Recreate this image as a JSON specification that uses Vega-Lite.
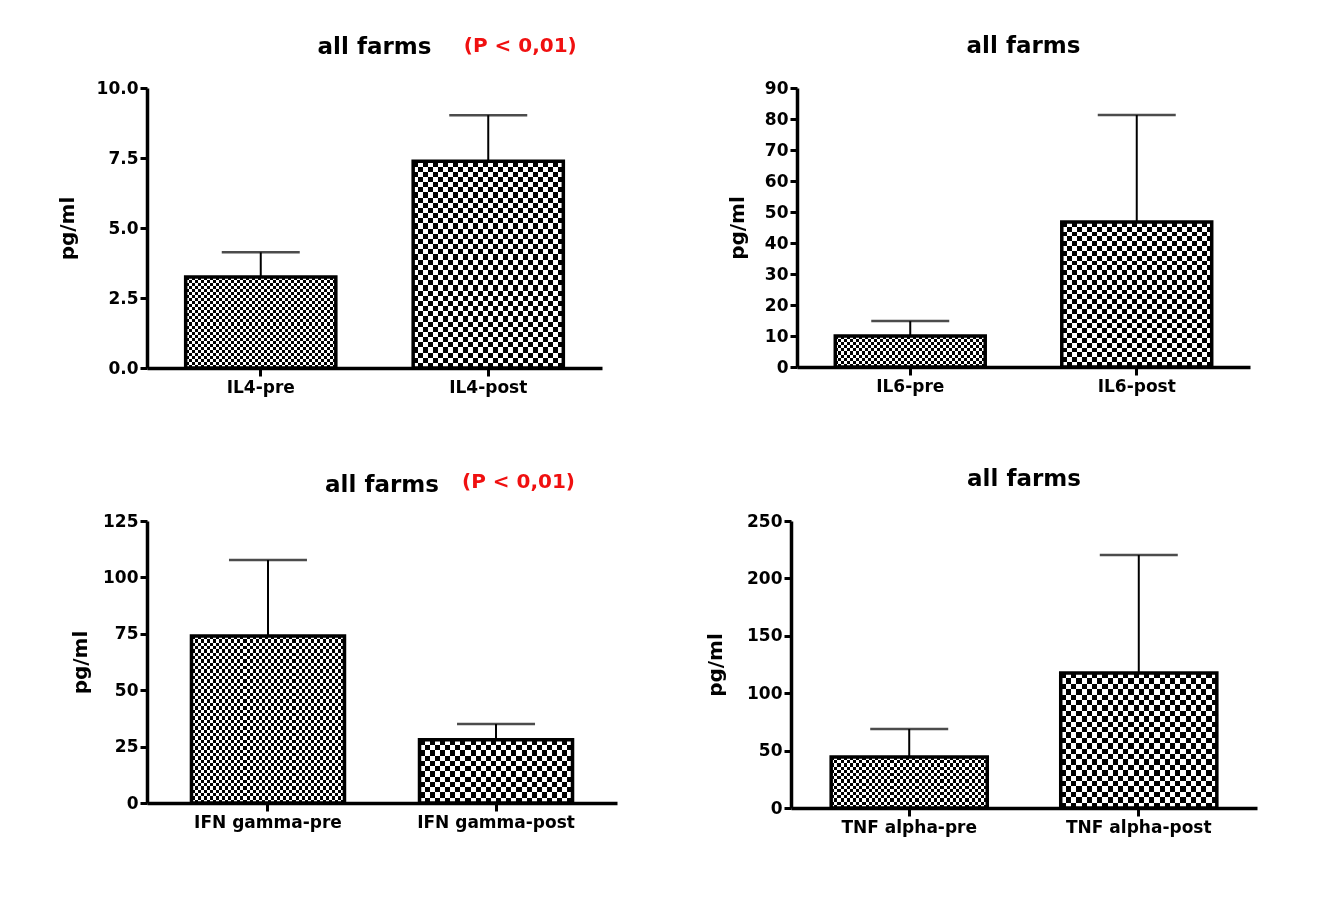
{
  "$schema": "https://vega.github.io/schema/vega-lite/v6.json",
  "padding": {"left": 57, "top": 35, "right": 5, "bottom": 5},
  "background": "white",
  "spacing": 73,
  "config": {
    "font": "DejaVu Sans",
    "view": {"stroke": null},
    "title": {"font": "DejaVu Sans", "fontSize": 23, "fontWeight": "bold", "color": "black", "anchor": "middle", "offset": 21},
    "axis": {
      "domainColor": "black", "domainWidth": 3.5, "tickColor": "black", "tickWidth": 3, "tickSize": 7,
      "labelFont": "DejaVu Sans", "labelFontWeight": "bold", "labelFontSize": 17, "labelColor": "black", "labelPadding": 2, "labelOverlap": false,
      "titleFont": "DejaVu Sans", "titleFontWeight": "bold", "titleFontSize": 20, "titleColor": "black",
      "grid": false
    },
    "axisX": {"labelAngle": 0, "tickSize": 8, "labelPadding": 3, "title": null}
  },
  "data": {"values": [
    {"panel": "IL4", "cat": "IL4-pre", "phase": "pre", "mean": 3.25, "upper": 4.13},
    {"panel": "IL4", "cat": "IL4-post", "phase": "post", "mean": 7.38, "upper": 9.03},
    {"panel": "IL6", "cat": "IL6-pre", "phase": "pre", "mean": 10.0, "upper": 14.8},
    {"panel": "IL6", "cat": "IL6-post", "phase": "post", "mean": 46.8, "upper": 81.3},
    {"panel": "IFN", "cat": "IFN gamma-pre", "phase": "pre", "mean": 74.0, "upper": 107.7},
    {"panel": "IFN", "cat": "IFN gamma-post", "phase": "post", "mean": 28.0, "upper": 35.0},
    {"panel": "TNF", "cat": "TNF alpha-pre", "phase": "pre", "mean": 44.4, "upper": 68.8},
    {"panel": "TNF", "cat": "TNF alpha-post", "phase": "post", "mean": 117.6, "upper": 220.4}
  ]},
  "vconcat": [
    {
      "bounds": "flush",
      "spacing": 195,
      "hconcat": [
        {
          "width": 455, "height": 280,
          "title": {"text": "all farms", "offset": -23},
          "transform": [{"filter": "datum.panel === 'IL4'"}],
          "encoding": {"x": {"field": "cat", "type": "nominal", "sort": null, "scale": {"domain": ["IL4-pre", "IL4-post"], "paddingInner": 0.34, "paddingOuter": 0.17}}},
          "layer": [
            {"transform": [{"filter": "datum.phase === 'pre'"}],
             "mark": {"type": "bar", "strokeWidth": 0, "fill": {"gradient": "linear", "x1": 0, "y1": 0, "x2": 1, "y2": 0, "stops": [
{"offset":0,"color":"#000"},{"offset":0.02,"color":"#000"},{"offset":0.02,"color":"#fff"},{"offset":0.04,"color":"#fff"},
{"offset":0.04,"color":"#000"},{"offset":0.06,"color":"#000"},{"offset":0.06,"color":"#fff"},{"offset":0.08,"color":"#fff"},
{"offset":0.08,"color":"#000"},{"offset":0.1,"color":"#000"},{"offset":0.1,"color":"#fff"},{"offset":0.12,"color":"#fff"},
{"offset":0.12,"color":"#000"},{"offset":0.14,"color":"#000"},{"offset":0.14,"color":"#fff"},{"offset":0.16,"color":"#fff"},
{"offset":0.16,"color":"#000"},{"offset":0.18,"color":"#000"},{"offset":0.18,"color":"#fff"},{"offset":0.2,"color":"#fff"},
{"offset":0.2,"color":"#000"},{"offset":0.22,"color":"#000"},{"offset":0.22,"color":"#fff"},{"offset":0.24,"color":"#fff"},
{"offset":0.24,"color":"#000"},{"offset":0.26,"color":"#000"},{"offset":0.26,"color":"#fff"},{"offset":0.28,"color":"#fff"},
{"offset":0.28,"color":"#000"},{"offset":0.3,"color":"#000"},{"offset":0.3,"color":"#fff"},{"offset":0.32,"color":"#fff"},
{"offset":0.32,"color":"#000"},{"offset":0.34,"color":"#000"},{"offset":0.34,"color":"#fff"},{"offset":0.36,"color":"#fff"},
{"offset":0.36,"color":"#000"},{"offset":0.38,"color":"#000"},{"offset":0.38,"color":"#fff"},{"offset":0.4,"color":"#fff"},
{"offset":0.4,"color":"#000"},{"offset":0.42,"color":"#000"},{"offset":0.42,"color":"#fff"},{"offset":0.44,"color":"#fff"},
{"offset":0.44,"color":"#000"},{"offset":0.46,"color":"#000"},{"offset":0.46,"color":"#fff"},{"offset":0.48,"color":"#fff"},
{"offset":0.48,"color":"#000"},{"offset":0.5,"color":"#000"},{"offset":0.5,"color":"#fff"},{"offset":0.52,"color":"#fff"},
{"offset":0.52,"color":"#000"},{"offset":0.54,"color":"#000"},{"offset":0.54,"color":"#fff"},{"offset":0.56,"color":"#fff"},
{"offset":0.56,"color":"#000"},{"offset":0.58,"color":"#000"},{"offset":0.58,"color":"#fff"},{"offset":0.6,"color":"#fff"},
{"offset":0.6,"color":"#000"},{"offset":0.62,"color":"#000"},{"offset":0.62,"color":"#fff"},{"offset":0.64,"color":"#fff"},
{"offset":0.64,"color":"#000"},{"offset":0.66,"color":"#000"},{"offset":0.66,"color":"#fff"},{"offset":0.68,"color":"#fff"},
{"offset":0.68,"color":"#000"},{"offset":0.7,"color":"#000"},{"offset":0.7,"color":"#fff"},{"offset":0.72,"color":"#fff"},
{"offset":0.72,"color":"#000"},{"offset":0.74,"color":"#000"},{"offset":0.74,"color":"#fff"},{"offset":0.76,"color":"#fff"},
{"offset":0.76,"color":"#000"},{"offset":0.78,"color":"#000"},{"offset":0.78,"color":"#fff"},{"offset":0.8,"color":"#fff"},
{"offset":0.8,"color":"#000"},{"offset":0.82,"color":"#000"},{"offset":0.82,"color":"#fff"},{"offset":0.84,"color":"#fff"},
{"offset":0.84,"color":"#000"},{"offset":0.86,"color":"#000"},{"offset":0.86,"color":"#fff"},{"offset":0.88,"color":"#fff"},
{"offset":0.88,"color":"#000"},{"offset":0.9,"color":"#000"},{"offset":0.9,"color":"#fff"},{"offset":0.92,"color":"#fff"},
{"offset":0.92,"color":"#000"},{"offset":0.94,"color":"#000"},{"offset":0.94,"color":"#fff"},{"offset":0.96,"color":"#fff"},
{"offset":0.96,"color":"#000"},{"offset":0.98,"color":"#000"},{"offset":0.98,"color":"#fff"},{"offset":1,"color":"#fff"}]}},
             "encoding": {"y": {"field": "mean", "type": "quantitative", "title": "pg/ml", "scale": {"domain": [0, 10], "nice": false}, "axis": {"values": [0, 2.5, 5, 7.5, 10], "format": ".1f", "titlePadding": 19, "tickCount": 20}}}},
            {"transform": [{"filter": "datum.phase === 'pre'"}],
             "mark": {"type": "bar", "strokeWidth": 0, "blend": "difference", "fill": {"gradient": "linear", "x1": 0, "y1": 0, "x2": 0, "y2": 1, "stops": [
{"offset":0,"color":"#000"},{"offset":0.0333,"color":"#000"},{"offset":0.0333,"color":"#fff"},{"offset":0.0667,"color":"#fff"},
{"offset":0.0667,"color":"#000"},{"offset":0.1,"color":"#000"},{"offset":0.1,"color":"#fff"},{"offset":0.1333,"color":"#fff"},
{"offset":0.1333,"color":"#000"},{"offset":0.1667,"color":"#000"},{"offset":0.1667,"color":"#fff"},{"offset":0.2,"color":"#fff"},
{"offset":0.2,"color":"#000"},{"offset":0.2333,"color":"#000"},{"offset":0.2333,"color":"#fff"},{"offset":0.2667,"color":"#fff"},
{"offset":0.2667,"color":"#000"},{"offset":0.3,"color":"#000"},{"offset":0.3,"color":"#fff"},{"offset":0.3333,"color":"#fff"},
{"offset":0.3333,"color":"#000"},{"offset":0.3667,"color":"#000"},{"offset":0.3667,"color":"#fff"},{"offset":0.4,"color":"#fff"},
{"offset":0.4,"color":"#000"},{"offset":0.4333,"color":"#000"},{"offset":0.4333,"color":"#fff"},{"offset":0.4667,"color":"#fff"},
{"offset":0.4667,"color":"#000"},{"offset":0.5,"color":"#000"},{"offset":0.5,"color":"#fff"},{"offset":0.5333,"color":"#fff"},
{"offset":0.5333,"color":"#000"},{"offset":0.5667,"color":"#000"},{"offset":0.5667,"color":"#fff"},{"offset":0.6,"color":"#fff"},
{"offset":0.6,"color":"#000"},{"offset":0.6333,"color":"#000"},{"offset":0.6333,"color":"#fff"},{"offset":0.6667,"color":"#fff"},
{"offset":0.6667,"color":"#000"},{"offset":0.7,"color":"#000"},{"offset":0.7,"color":"#fff"},{"offset":0.7333,"color":"#fff"},
{"offset":0.7333,"color":"#000"},{"offset":0.7667,"color":"#000"},{"offset":0.7667,"color":"#fff"},{"offset":0.8,"color":"#fff"},
{"offset":0.8,"color":"#000"},{"offset":0.8333,"color":"#000"},{"offset":0.8333,"color":"#fff"},{"offset":0.8667,"color":"#fff"},
{"offset":0.8667,"color":"#000"},{"offset":0.9,"color":"#000"},{"offset":0.9,"color":"#fff"},{"offset":0.9333,"color":"#fff"},
{"offset":0.9333,"color":"#000"},{"offset":0.9667,"color":"#000"},{"offset":0.9667,"color":"#fff"},{"offset":1,"color":"#fff"}]}},
             "encoding": {"y": {"field": "mean", "type": "quantitative", "title": "pg/ml"}}},
            {"transform": [{"filter": "datum.phase === 'post'"}],
             "mark": {"type": "bar", "strokeWidth": 0, "fill": {"gradient": "linear", "x1": 0, "y1": 0, "x2": 1, "y2": 0, "stops": [
{"offset":0,"color":"#000"},{"offset":0.0333,"color":"#000"},{"offset":0.0333,"color":"#fff"},{"offset":0.0667,"color":"#fff"},
{"offset":0.0667,"color":"#000"},{"offset":0.1,"color":"#000"},{"offset":0.1,"color":"#fff"},{"offset":0.1333,"color":"#fff"},
{"offset":0.1333,"color":"#000"},{"offset":0.1667,"color":"#000"},{"offset":0.1667,"color":"#fff"},{"offset":0.2,"color":"#fff"},
{"offset":0.2,"color":"#000"},{"offset":0.2333,"color":"#000"},{"offset":0.2333,"color":"#fff"},{"offset":0.2667,"color":"#fff"},
{"offset":0.2667,"color":"#000"},{"offset":0.3,"color":"#000"},{"offset":0.3,"color":"#fff"},{"offset":0.3333,"color":"#fff"},
{"offset":0.3333,"color":"#000"},{"offset":0.3667,"color":"#000"},{"offset":0.3667,"color":"#fff"},{"offset":0.4,"color":"#fff"},
{"offset":0.4,"color":"#000"},{"offset":0.4333,"color":"#000"},{"offset":0.4333,"color":"#fff"},{"offset":0.4667,"color":"#fff"},
{"offset":0.4667,"color":"#000"},{"offset":0.5,"color":"#000"},{"offset":0.5,"color":"#fff"},{"offset":0.5333,"color":"#fff"},
{"offset":0.5333,"color":"#000"},{"offset":0.5667,"color":"#000"},{"offset":0.5667,"color":"#fff"},{"offset":0.6,"color":"#fff"},
{"offset":0.6,"color":"#000"},{"offset":0.6333,"color":"#000"},{"offset":0.6333,"color":"#fff"},{"offset":0.6667,"color":"#fff"},
{"offset":0.6667,"color":"#000"},{"offset":0.7,"color":"#000"},{"offset":0.7,"color":"#fff"},{"offset":0.7333,"color":"#fff"},
{"offset":0.7333,"color":"#000"},{"offset":0.7667,"color":"#000"},{"offset":0.7667,"color":"#fff"},{"offset":0.8,"color":"#fff"},
{"offset":0.8,"color":"#000"},{"offset":0.8333,"color":"#000"},{"offset":0.8333,"color":"#fff"},{"offset":0.8667,"color":"#fff"},
{"offset":0.8667,"color":"#000"},{"offset":0.9,"color":"#000"},{"offset":0.9,"color":"#fff"},{"offset":0.9333,"color":"#fff"},
{"offset":0.9333,"color":"#000"},{"offset":0.9667,"color":"#000"},{"offset":0.9667,"color":"#fff"},{"offset":1,"color":"#fff"}]}},
             "encoding": {"y": {"field": "mean", "type": "quantitative", "title": "pg/ml"}}},
            {"transform": [{"filter": "datum.phase === 'post'"}],
             "mark": {"type": "bar", "strokeWidth": 0, "blend": "difference", "fill": {"gradient": "linear", "x1": 0, "y1": 0, "x2": 0, "y2": 1, "stops": [
{"offset":0,"color":"#000"},{"offset":0.025,"color":"#000"},{"offset":0.025,"color":"#fff"},{"offset":0.05,"color":"#fff"},
{"offset":0.05,"color":"#000"},{"offset":0.075,"color":"#000"},{"offset":0.075,"color":"#fff"},{"offset":0.1,"color":"#fff"},
{"offset":0.1,"color":"#000"},{"offset":0.125,"color":"#000"},{"offset":0.125,"color":"#fff"},{"offset":0.15,"color":"#fff"},
{"offset":0.15,"color":"#000"},{"offset":0.175,"color":"#000"},{"offset":0.175,"color":"#fff"},{"offset":0.2,"color":"#fff"},
{"offset":0.2,"color":"#000"},{"offset":0.225,"color":"#000"},{"offset":0.225,"color":"#fff"},{"offset":0.25,"color":"#fff"},
{"offset":0.25,"color":"#000"},{"offset":0.275,"color":"#000"},{"offset":0.275,"color":"#fff"},{"offset":0.3,"color":"#fff"},
{"offset":0.3,"color":"#000"},{"offset":0.325,"color":"#000"},{"offset":0.325,"color":"#fff"},{"offset":0.35,"color":"#fff"},
{"offset":0.35,"color":"#000"},{"offset":0.375,"color":"#000"},{"offset":0.375,"color":"#fff"},{"offset":0.4,"color":"#fff"},
{"offset":0.4,"color":"#000"},{"offset":0.425,"color":"#000"},{"offset":0.425,"color":"#fff"},{"offset":0.45,"color":"#fff"},
{"offset":0.45,"color":"#000"},{"offset":0.475,"color":"#000"},{"offset":0.475,"color":"#fff"},{"offset":0.5,"color":"#fff"},
{"offset":0.5,"color":"#000"},{"offset":0.525,"color":"#000"},{"offset":0.525,"color":"#fff"},{"offset":0.55,"color":"#fff"},
{"offset":0.55,"color":"#000"},{"offset":0.575,"color":"#000"},{"offset":0.575,"color":"#fff"},{"offset":0.6,"color":"#fff"},
{"offset":0.6,"color":"#000"},{"offset":0.625,"color":"#000"},{"offset":0.625,"color":"#fff"},{"offset":0.65,"color":"#fff"},
{"offset":0.65,"color":"#000"},{"offset":0.675,"color":"#000"},{"offset":0.675,"color":"#fff"},{"offset":0.7,"color":"#fff"},
{"offset":0.7,"color":"#000"},{"offset":0.725,"color":"#000"},{"offset":0.725,"color":"#fff"},{"offset":0.75,"color":"#fff"},
{"offset":0.75,"color":"#000"},{"offset":0.775,"color":"#000"},{"offset":0.775,"color":"#fff"},{"offset":0.8,"color":"#fff"},
{"offset":0.8,"color":"#000"},{"offset":0.825,"color":"#000"},{"offset":0.825,"color":"#fff"},{"offset":0.85,"color":"#fff"},
{"offset":0.85,"color":"#000"},{"offset":0.875,"color":"#000"},{"offset":0.875,"color":"#fff"},{"offset":0.9,"color":"#fff"},
{"offset":0.9,"color":"#000"},{"offset":0.925,"color":"#000"},{"offset":0.925,"color":"#fff"},{"offset":0.95,"color":"#fff"},
{"offset":0.95,"color":"#000"},{"offset":0.975,"color":"#000"},{"offset":0.975,"color":"#fff"},{"offset":1,"color":"#fff"}]}},
             "encoding": {"y": {"field": "mean", "type": "quantitative", "title": "pg/ml"}}},
            {"mark": {"type": "bar", "fill": "transparent", "stroke": "black", "strokeWidth": 3.5},
             "encoding": {"y": {"field": "mean", "type": "quantitative", "title": "pg/ml"}}},
            {"mark": {"type": "rule", "color": "black", "strokeWidth": 2},
             "encoding": {"y": {"field": "mean", "type": "quantitative", "title": "pg/ml"}, "y2": {"field": "upper"}}},
            {"mark": {"type": "tick", "color": "black", "size": 78, "thickness": 2.5},
             "encoding": {"y": {"field": "upper", "type": "quantitative", "title": "pg/ml"}}},
            {"data": {"values": [{"note": "(P < 0,01)"}]},
             "mark": {"type": "text", "color": "#f01010", "font": "DejaVu Sans", "fontWeight": "bold", "fontSize": 20, "baseline": "middle", "align": "center", "dx": 32},
             "encoding": {"x": {"datum": "IL4-post"}, "y": {"datum": 11.5, "type": "quantitative"}, "text": {"field": "note"}}}
          ]
        },
        {
          "width": 453, "height": 279,
          "title": "all farms",
          "transform": [{"filter": "datum.panel === 'IL6'"}],
          "encoding": {"x": {"field": "cat", "type": "nominal", "sort": null, "scale": {"domain": ["IL6-pre", "IL6-post"], "paddingInner": 0.338, "paddingOuter": 0.169}}},
          "layer": [
            {"transform": [{"filter": "datum.phase === 'pre'"}],
             "mark": {"type": "bar", "strokeWidth": 0, "fill": {"gradient": "linear", "x1": 0, "y1": 0, "x2": 1, "y2": 0, "stops": [
{"offset":0,"color":"#000"},{"offset":0.02,"color":"#000"},{"offset":0.02,"color":"#fff"},{"offset":0.04,"color":"#fff"},
{"offset":0.04,"color":"#000"},{"offset":0.06,"color":"#000"},{"offset":0.06,"color":"#fff"},{"offset":0.08,"color":"#fff"},
{"offset":0.08,"color":"#000"},{"offset":0.1,"color":"#000"},{"offset":0.1,"color":"#fff"},{"offset":0.12,"color":"#fff"},
{"offset":0.12,"color":"#000"},{"offset":0.14,"color":"#000"},{"offset":0.14,"color":"#fff"},{"offset":0.16,"color":"#fff"},
{"offset":0.16,"color":"#000"},{"offset":0.18,"color":"#000"},{"offset":0.18,"color":"#fff"},{"offset":0.2,"color":"#fff"},
{"offset":0.2,"color":"#000"},{"offset":0.22,"color":"#000"},{"offset":0.22,"color":"#fff"},{"offset":0.24,"color":"#fff"},
{"offset":0.24,"color":"#000"},{"offset":0.26,"color":"#000"},{"offset":0.26,"color":"#fff"},{"offset":0.28,"color":"#fff"},
{"offset":0.28,"color":"#000"},{"offset":0.3,"color":"#000"},{"offset":0.3,"color":"#fff"},{"offset":0.32,"color":"#fff"},
{"offset":0.32,"color":"#000"},{"offset":0.34,"color":"#000"},{"offset":0.34,"color":"#fff"},{"offset":0.36,"color":"#fff"},
{"offset":0.36,"color":"#000"},{"offset":0.38,"color":"#000"},{"offset":0.38,"color":"#fff"},{"offset":0.4,"color":"#fff"},
{"offset":0.4,"color":"#000"},{"offset":0.42,"color":"#000"},{"offset":0.42,"color":"#fff"},{"offset":0.44,"color":"#fff"},
{"offset":0.44,"color":"#000"},{"offset":0.46,"color":"#000"},{"offset":0.46,"color":"#fff"},{"offset":0.48,"color":"#fff"},
{"offset":0.48,"color":"#000"},{"offset":0.5,"color":"#000"},{"offset":0.5,"color":"#fff"},{"offset":0.52,"color":"#fff"},
{"offset":0.52,"color":"#000"},{"offset":0.54,"color":"#000"},{"offset":0.54,"color":"#fff"},{"offset":0.56,"color":"#fff"},
{"offset":0.56,"color":"#000"},{"offset":0.58,"color":"#000"},{"offset":0.58,"color":"#fff"},{"offset":0.6,"color":"#fff"},
{"offset":0.6,"color":"#000"},{"offset":0.62,"color":"#000"},{"offset":0.62,"color":"#fff"},{"offset":0.64,"color":"#fff"},
{"offset":0.64,"color":"#000"},{"offset":0.66,"color":"#000"},{"offset":0.66,"color":"#fff"},{"offset":0.68,"color":"#fff"},
{"offset":0.68,"color":"#000"},{"offset":0.7,"color":"#000"},{"offset":0.7,"color":"#fff"},{"offset":0.72,"color":"#fff"},
{"offset":0.72,"color":"#000"},{"offset":0.74,"color":"#000"},{"offset":0.74,"color":"#fff"},{"offset":0.76,"color":"#fff"},
{"offset":0.76,"color":"#000"},{"offset":0.78,"color":"#000"},{"offset":0.78,"color":"#fff"},{"offset":0.8,"color":"#fff"},
{"offset":0.8,"color":"#000"},{"offset":0.82,"color":"#000"},{"offset":0.82,"color":"#fff"},{"offset":0.84,"color":"#fff"},
{"offset":0.84,"color":"#000"},{"offset":0.86,"color":"#000"},{"offset":0.86,"color":"#fff"},{"offset":0.88,"color":"#fff"},
{"offset":0.88,"color":"#000"},{"offset":0.9,"color":"#000"},{"offset":0.9,"color":"#fff"},{"offset":0.92,"color":"#fff"},
{"offset":0.92,"color":"#000"},{"offset":0.94,"color":"#000"},{"offset":0.94,"color":"#fff"},{"offset":0.96,"color":"#fff"},
{"offset":0.96,"color":"#000"},{"offset":0.98,"color":"#000"},{"offset":0.98,"color":"#fff"},{"offset":1,"color":"#fff"}]}},
             "encoding": {"y": {"field": "mean", "type": "quantitative", "title": "pg/ml", "scale": {"domain": [0, 90], "nice": false}, "axis": {"values": [0, 10, 20, 30, 40, 50, 60, 70, 80, 90], "titlePadding": 17, "tickCount": 20}}}},
            {"transform": [{"filter": "datum.phase === 'pre'"}],
             "mark": {"type": "bar", "strokeWidth": 0, "blend": "difference", "fill": {"gradient": "linear", "x1": 0, "y1": 0, "x2": 0, "y2": 1, "stops": [
{"offset":0,"color":"#000"},{"offset":0.1,"color":"#000"},{"offset":0.1,"color":"#fff"},{"offset":0.2,"color":"#fff"},
{"offset":0.2,"color":"#000"},{"offset":0.3,"color":"#000"},{"offset":0.3,"color":"#fff"},{"offset":0.4,"color":"#fff"},
{"offset":0.4,"color":"#000"},{"offset":0.5,"color":"#000"},{"offset":0.5,"color":"#fff"},{"offset":0.6,"color":"#fff"},
{"offset":0.6,"color":"#000"},{"offset":0.7,"color":"#000"},{"offset":0.7,"color":"#fff"},{"offset":0.8,"color":"#fff"},
{"offset":0.8,"color":"#000"},{"offset":0.9,"color":"#000"},{"offset":0.9,"color":"#fff"},{"offset":1,"color":"#fff"}]}},
             "encoding": {"y": {"field": "mean", "type": "quantitative", "title": "pg/ml"}}},
            {"transform": [{"filter": "datum.phase === 'post'"}],
             "mark": {"type": "bar", "strokeWidth": 0, "fill": {"gradient": "linear", "x1": 0, "y1": 0, "x2": 1, "y2": 0, "stops": [
{"offset":0,"color":"#000"},{"offset":0.0333,"color":"#000"},{"offset":0.0333,"color":"#fff"},{"offset":0.0667,"color":"#fff"},
{"offset":0.0667,"color":"#000"},{"offset":0.1,"color":"#000"},{"offset":0.1,"color":"#fff"},{"offset":0.1333,"color":"#fff"},
{"offset":0.1333,"color":"#000"},{"offset":0.1667,"color":"#000"},{"offset":0.1667,"color":"#fff"},{"offset":0.2,"color":"#fff"},
{"offset":0.2,"color":"#000"},{"offset":0.2333,"color":"#000"},{"offset":0.2333,"color":"#fff"},{"offset":0.2667,"color":"#fff"},
{"offset":0.2667,"color":"#000"},{"offset":0.3,"color":"#000"},{"offset":0.3,"color":"#fff"},{"offset":0.3333,"color":"#fff"},
{"offset":0.3333,"color":"#000"},{"offset":0.3667,"color":"#000"},{"offset":0.3667,"color":"#fff"},{"offset":0.4,"color":"#fff"},
{"offset":0.4,"color":"#000"},{"offset":0.4333,"color":"#000"},{"offset":0.4333,"color":"#fff"},{"offset":0.4667,"color":"#fff"},
{"offset":0.4667,"color":"#000"},{"offset":0.5,"color":"#000"},{"offset":0.5,"color":"#fff"},{"offset":0.5333,"color":"#fff"},
{"offset":0.5333,"color":"#000"},{"offset":0.5667,"color":"#000"},{"offset":0.5667,"color":"#fff"},{"offset":0.6,"color":"#fff"},
{"offset":0.6,"color":"#000"},{"offset":0.6333,"color":"#000"},{"offset":0.6333,"color":"#fff"},{"offset":0.6667,"color":"#fff"},
{"offset":0.6667,"color":"#000"},{"offset":0.7,"color":"#000"},{"offset":0.7,"color":"#fff"},{"offset":0.7333,"color":"#fff"},
{"offset":0.7333,"color":"#000"},{"offset":0.7667,"color":"#000"},{"offset":0.7667,"color":"#fff"},{"offset":0.8,"color":"#fff"},
{"offset":0.8,"color":"#000"},{"offset":0.8333,"color":"#000"},{"offset":0.8333,"color":"#fff"},{"offset":0.8667,"color":"#fff"},
{"offset":0.8667,"color":"#000"},{"offset":0.9,"color":"#000"},{"offset":0.9,"color":"#fff"},{"offset":0.9333,"color":"#fff"},
{"offset":0.9333,"color":"#000"},{"offset":0.9667,"color":"#000"},{"offset":0.9667,"color":"#fff"},{"offset":1,"color":"#fff"}]}},
             "encoding": {"y": {"field": "mean", "type": "quantitative", "title": "pg/ml"}}},
            {"transform": [{"filter": "datum.phase === 'post'"}],
             "mark": {"type": "bar", "strokeWidth": 0, "blend": "difference", "fill": {"gradient": "linear", "x1": 0, "y1": 0, "x2": 0, "y2": 1, "stops": [
{"offset":0,"color":"#000"},{"offset":0.0333,"color":"#000"},{"offset":0.0333,"color":"#fff"},{"offset":0.0667,"color":"#fff"},
{"offset":0.0667,"color":"#000"},{"offset":0.1,"color":"#000"},{"offset":0.1,"color":"#fff"},{"offset":0.1333,"color":"#fff"},
{"offset":0.1333,"color":"#000"},{"offset":0.1667,"color":"#000"},{"offset":0.1667,"color":"#fff"},{"offset":0.2,"color":"#fff"},
{"offset":0.2,"color":"#000"},{"offset":0.2333,"color":"#000"},{"offset":0.2333,"color":"#fff"},{"offset":0.2667,"color":"#fff"},
{"offset":0.2667,"color":"#000"},{"offset":0.3,"color":"#000"},{"offset":0.3,"color":"#fff"},{"offset":0.3333,"color":"#fff"},
{"offset":0.3333,"color":"#000"},{"offset":0.3667,"color":"#000"},{"offset":0.3667,"color":"#fff"},{"offset":0.4,"color":"#fff"},
{"offset":0.4,"color":"#000"},{"offset":0.4333,"color":"#000"},{"offset":0.4333,"color":"#fff"},{"offset":0.4667,"color":"#fff"},
{"offset":0.4667,"color":"#000"},{"offset":0.5,"color":"#000"},{"offset":0.5,"color":"#fff"},{"offset":0.5333,"color":"#fff"},
{"offset":0.5333,"color":"#000"},{"offset":0.5667,"color":"#000"},{"offset":0.5667,"color":"#fff"},{"offset":0.6,"color":"#fff"},
{"offset":0.6,"color":"#000"},{"offset":0.6333,"color":"#000"},{"offset":0.6333,"color":"#fff"},{"offset":0.6667,"color":"#fff"},
{"offset":0.6667,"color":"#000"},{"offset":0.7,"color":"#000"},{"offset":0.7,"color":"#fff"},{"offset":0.7333,"color":"#fff"},
{"offset":0.7333,"color":"#000"},{"offset":0.7667,"color":"#000"},{"offset":0.7667,"color":"#fff"},{"offset":0.8,"color":"#fff"},
{"offset":0.8,"color":"#000"},{"offset":0.8333,"color":"#000"},{"offset":0.8333,"color":"#fff"},{"offset":0.8667,"color":"#fff"},
{"offset":0.8667,"color":"#000"},{"offset":0.9,"color":"#000"},{"offset":0.9,"color":"#fff"},{"offset":0.9333,"color":"#fff"},
{"offset":0.9333,"color":"#000"},{"offset":0.9667,"color":"#000"},{"offset":0.9667,"color":"#fff"},{"offset":1,"color":"#fff"}]}},
             "encoding": {"y": {"field": "mean", "type": "quantitative", "title": "pg/ml"}}},
            {"mark": {"type": "bar", "fill": "transparent", "stroke": "black", "strokeWidth": 3.5},
             "encoding": {"y": {"field": "mean", "type": "quantitative", "title": "pg/ml"}}},
            {"mark": {"type": "rule", "color": "black", "strokeWidth": 2},
             "encoding": {"y": {"field": "mean", "type": "quantitative", "title": "pg/ml"}, "y2": {"field": "upper"}}},
            {"mark": {"type": "tick", "color": "black", "size": 78, "thickness": 2.5},
             "encoding": {"y": {"field": "upper", "type": "quantitative", "title": "pg/ml"}}}
          ]
        }
      ]
    },
    {
      "bounds": "flush",
      "spacing": 174,
      "hconcat": [
        {
          "width": 470, "height": 282,
          "title": {"text": "all farms", "offset": -25},
          "transform": [{"filter": "datum.panel === 'IFN'"}],
          "encoding": {"x": {"field": "cat", "type": "nominal", "sort": null, "scale": {"domain": ["IFN gamma-pre", "IFN gamma-post"], "paddingInner": 0.329, "paddingOuter": 0.195}}},
          "layer": [
            {"transform": [{"filter": "datum.phase === 'pre'"}],
             "mark": {"type": "bar", "strokeWidth": 0, "fill": {"gradient": "linear", "x1": 0, "y1": 0, "x2": 1, "y2": 0, "stops": [
{"offset":0,"color":"#000"},{"offset":0.02,"color":"#000"},{"offset":0.02,"color":"#fff"},{"offset":0.04,"color":"#fff"},
{"offset":0.04,"color":"#000"},{"offset":0.06,"color":"#000"},{"offset":0.06,"color":"#fff"},{"offset":0.08,"color":"#fff"},
{"offset":0.08,"color":"#000"},{"offset":0.1,"color":"#000"},{"offset":0.1,"color":"#fff"},{"offset":0.12,"color":"#fff"},
{"offset":0.12,"color":"#000"},{"offset":0.14,"color":"#000"},{"offset":0.14,"color":"#fff"},{"offset":0.16,"color":"#fff"},
{"offset":0.16,"color":"#000"},{"offset":0.18,"color":"#000"},{"offset":0.18,"color":"#fff"},{"offset":0.2,"color":"#fff"},
{"offset":0.2,"color":"#000"},{"offset":0.22,"color":"#000"},{"offset":0.22,"color":"#fff"},{"offset":0.24,"color":"#fff"},
{"offset":0.24,"color":"#000"},{"offset":0.26,"color":"#000"},{"offset":0.26,"color":"#fff"},{"offset":0.28,"color":"#fff"},
{"offset":0.28,"color":"#000"},{"offset":0.3,"color":"#000"},{"offset":0.3,"color":"#fff"},{"offset":0.32,"color":"#fff"},
{"offset":0.32,"color":"#000"},{"offset":0.34,"color":"#000"},{"offset":0.34,"color":"#fff"},{"offset":0.36,"color":"#fff"},
{"offset":0.36,"color":"#000"},{"offset":0.38,"color":"#000"},{"offset":0.38,"color":"#fff"},{"offset":0.4,"color":"#fff"},
{"offset":0.4,"color":"#000"},{"offset":0.42,"color":"#000"},{"offset":0.42,"color":"#fff"},{"offset":0.44,"color":"#fff"},
{"offset":0.44,"color":"#000"},{"offset":0.46,"color":"#000"},{"offset":0.46,"color":"#fff"},{"offset":0.48,"color":"#fff"},
{"offset":0.48,"color":"#000"},{"offset":0.5,"color":"#000"},{"offset":0.5,"color":"#fff"},{"offset":0.52,"color":"#fff"},
{"offset":0.52,"color":"#000"},{"offset":0.54,"color":"#000"},{"offset":0.54,"color":"#fff"},{"offset":0.56,"color":"#fff"},
{"offset":0.56,"color":"#000"},{"offset":0.58,"color":"#000"},{"offset":0.58,"color":"#fff"},{"offset":0.6,"color":"#fff"},
{"offset":0.6,"color":"#000"},{"offset":0.62,"color":"#000"},{"offset":0.62,"color":"#fff"},{"offset":0.64,"color":"#fff"},
{"offset":0.64,"color":"#000"},{"offset":0.66,"color":"#000"},{"offset":0.66,"color":"#fff"},{"offset":0.68,"color":"#fff"},
{"offset":0.68,"color":"#000"},{"offset":0.7,"color":"#000"},{"offset":0.7,"color":"#fff"},{"offset":0.72,"color":"#fff"},
{"offset":0.72,"color":"#000"},{"offset":0.74,"color":"#000"},{"offset":0.74,"color":"#fff"},{"offset":0.76,"color":"#fff"},
{"offset":0.76,"color":"#000"},{"offset":0.78,"color":"#000"},{"offset":0.78,"color":"#fff"},{"offset":0.8,"color":"#fff"},
{"offset":0.8,"color":"#000"},{"offset":0.82,"color":"#000"},{"offset":0.82,"color":"#fff"},{"offset":0.84,"color":"#fff"},
{"offset":0.84,"color":"#000"},{"offset":0.86,"color":"#000"},{"offset":0.86,"color":"#fff"},{"offset":0.88,"color":"#fff"},
{"offset":0.88,"color":"#000"},{"offset":0.9,"color":"#000"},{"offset":0.9,"color":"#fff"},{"offset":0.92,"color":"#fff"},
{"offset":0.92,"color":"#000"},{"offset":0.94,"color":"#000"},{"offset":0.94,"color":"#fff"},{"offset":0.96,"color":"#fff"},
{"offset":0.96,"color":"#000"},{"offset":0.98,"color":"#000"},{"offset":0.98,"color":"#fff"},{"offset":1,"color":"#fff"}]}},
             "encoding": {"y": {"field": "mean", "type": "quantitative", "title": "pg/ml", "scale": {"domain": [0, 125], "nice": false}, "axis": {"values": [0, 25, 50, 75, 100, 125], "titlePadding": 12.5, "tickCount": 20}}}},
            {"transform": [{"filter": "datum.phase === 'pre'"}],
             "mark": {"type": "bar", "strokeWidth": 0, "blend": "difference", "fill": {"gradient": "linear", "x1": 0, "y1": 0, "x2": 0, "y2": 1, "stops": [
{"offset":0,"color":"#000"},{"offset":0.02,"color":"#000"},{"offset":0.02,"color":"#fff"},{"offset":0.04,"color":"#fff"},
{"offset":0.04,"color":"#000"},{"offset":0.06,"color":"#000"},{"offset":0.06,"color":"#fff"},{"offset":0.08,"color":"#fff"},
{"offset":0.08,"color":"#000"},{"offset":0.1,"color":"#000"},{"offset":0.1,"color":"#fff"},{"offset":0.12,"color":"#fff"},
{"offset":0.12,"color":"#000"},{"offset":0.14,"color":"#000"},{"offset":0.14,"color":"#fff"},{"offset":0.16,"color":"#fff"},
{"offset":0.16,"color":"#000"},{"offset":0.18,"color":"#000"},{"offset":0.18,"color":"#fff"},{"offset":0.2,"color":"#fff"},
{"offset":0.2,"color":"#000"},{"offset":0.22,"color":"#000"},{"offset":0.22,"color":"#fff"},{"offset":0.24,"color":"#fff"},
{"offset":0.24,"color":"#000"},{"offset":0.26,"color":"#000"},{"offset":0.26,"color":"#fff"},{"offset":0.28,"color":"#fff"},
{"offset":0.28,"color":"#000"},{"offset":0.3,"color":"#000"},{"offset":0.3,"color":"#fff"},{"offset":0.32,"color":"#fff"},
{"offset":0.32,"color":"#000"},{"offset":0.34,"color":"#000"},{"offset":0.34,"color":"#fff"},{"offset":0.36,"color":"#fff"},
{"offset":0.36,"color":"#000"},{"offset":0.38,"color":"#000"},{"offset":0.38,"color":"#fff"},{"offset":0.4,"color":"#fff"},
{"offset":0.4,"color":"#000"},{"offset":0.42,"color":"#000"},{"offset":0.42,"color":"#fff"},{"offset":0.44,"color":"#fff"},
{"offset":0.44,"color":"#000"},{"offset":0.46,"color":"#000"},{"offset":0.46,"color":"#fff"},{"offset":0.48,"color":"#fff"},
{"offset":0.48,"color":"#000"},{"offset":0.5,"color":"#000"},{"offset":0.5,"color":"#fff"},{"offset":0.52,"color":"#fff"},
{"offset":0.52,"color":"#000"},{"offset":0.54,"color":"#000"},{"offset":0.54,"color":"#fff"},{"offset":0.56,"color":"#fff"},
{"offset":0.56,"color":"#000"},{"offset":0.58,"color":"#000"},{"offset":0.58,"color":"#fff"},{"offset":0.6,"color":"#fff"},
{"offset":0.6,"color":"#000"},{"offset":0.62,"color":"#000"},{"offset":0.62,"color":"#fff"},{"offset":0.64,"color":"#fff"},
{"offset":0.64,"color":"#000"},{"offset":0.66,"color":"#000"},{"offset":0.66,"color":"#fff"},{"offset":0.68,"color":"#fff"},
{"offset":0.68,"color":"#000"},{"offset":0.7,"color":"#000"},{"offset":0.7,"color":"#fff"},{"offset":0.72,"color":"#fff"},
{"offset":0.72,"color":"#000"},{"offset":0.74,"color":"#000"},{"offset":0.74,"color":"#fff"},{"offset":0.76,"color":"#fff"},
{"offset":0.76,"color":"#000"},{"offset":0.78,"color":"#000"},{"offset":0.78,"color":"#fff"},{"offset":0.8,"color":"#fff"},
{"offset":0.8,"color":"#000"},{"offset":0.82,"color":"#000"},{"offset":0.82,"color":"#fff"},{"offset":0.84,"color":"#fff"},
{"offset":0.84,"color":"#000"},{"offset":0.86,"color":"#000"},{"offset":0.86,"color":"#fff"},{"offset":0.88,"color":"#fff"},
{"offset":0.88,"color":"#000"},{"offset":0.9,"color":"#000"},{"offset":0.9,"color":"#fff"},{"offset":0.92,"color":"#fff"},
{"offset":0.92,"color":"#000"},{"offset":0.94,"color":"#000"},{"offset":0.94,"color":"#fff"},{"offset":0.96,"color":"#fff"},
{"offset":0.96,"color":"#000"},{"offset":0.98,"color":"#000"},{"offset":0.98,"color":"#fff"},{"offset":1,"color":"#fff"}]}},
             "encoding": {"y": {"field": "mean", "type": "quantitative", "title": "pg/ml"}}},
            {"transform": [{"filter": "datum.phase === 'post'"}],
             "mark": {"type": "bar", "strokeWidth": 0, "fill": {"gradient": "linear", "x1": 0, "y1": 0, "x2": 1, "y2": 0, "stops": [
{"offset":0,"color":"#000"},{"offset":0.0333,"color":"#000"},{"offset":0.0333,"color":"#fff"},{"offset":0.0667,"color":"#fff"},
{"offset":0.0667,"color":"#000"},{"offset":0.1,"color":"#000"},{"offset":0.1,"color":"#fff"},{"offset":0.1333,"color":"#fff"},
{"offset":0.1333,"color":"#000"},{"offset":0.1667,"color":"#000"},{"offset":0.1667,"color":"#fff"},{"offset":0.2,"color":"#fff"},
{"offset":0.2,"color":"#000"},{"offset":0.2333,"color":"#000"},{"offset":0.2333,"color":"#fff"},{"offset":0.2667,"color":"#fff"},
{"offset":0.2667,"color":"#000"},{"offset":0.3,"color":"#000"},{"offset":0.3,"color":"#fff"},{"offset":0.3333,"color":"#fff"},
{"offset":0.3333,"color":"#000"},{"offset":0.3667,"color":"#000"},{"offset":0.3667,"color":"#fff"},{"offset":0.4,"color":"#fff"},
{"offset":0.4,"color":"#000"},{"offset":0.4333,"color":"#000"},{"offset":0.4333,"color":"#fff"},{"offset":0.4667,"color":"#fff"},
{"offset":0.4667,"color":"#000"},{"offset":0.5,"color":"#000"},{"offset":0.5,"color":"#fff"},{"offset":0.5333,"color":"#fff"},
{"offset":0.5333,"color":"#000"},{"offset":0.5667,"color":"#000"},{"offset":0.5667,"color":"#fff"},{"offset":0.6,"color":"#fff"},
{"offset":0.6,"color":"#000"},{"offset":0.6333,"color":"#000"},{"offset":0.6333,"color":"#fff"},{"offset":0.6667,"color":"#fff"},
{"offset":0.6667,"color":"#000"},{"offset":0.7,"color":"#000"},{"offset":0.7,"color":"#fff"},{"offset":0.7333,"color":"#fff"},
{"offset":0.7333,"color":"#000"},{"offset":0.7667,"color":"#000"},{"offset":0.7667,"color":"#fff"},{"offset":0.8,"color":"#fff"},
{"offset":0.8,"color":"#000"},{"offset":0.8333,"color":"#000"},{"offset":0.8333,"color":"#fff"},{"offset":0.8667,"color":"#fff"},
{"offset":0.8667,"color":"#000"},{"offset":0.9,"color":"#000"},{"offset":0.9,"color":"#fff"},{"offset":0.9333,"color":"#fff"},
{"offset":0.9333,"color":"#000"},{"offset":0.9667,"color":"#000"},{"offset":0.9667,"color":"#fff"},{"offset":1,"color":"#fff"}]}},
             "encoding": {"y": {"field": "mean", "type": "quantitative", "title": "pg/ml"}}},
            {"transform": [{"filter": "datum.phase === 'post'"}],
             "mark": {"type": "bar", "strokeWidth": 0, "blend": "difference", "fill": {"gradient": "linear", "x1": 0, "y1": 0, "x2": 0, "y2": 1, "stops": [
{"offset":0,"color":"#000"},{"offset":0.0833,"color":"#000"},{"offset":0.0833,"color":"#fff"},{"offset":0.1667,"color":"#fff"},
{"offset":0.1667,"color":"#000"},{"offset":0.25,"color":"#000"},{"offset":0.25,"color":"#fff"},{"offset":0.3333,"color":"#fff"},
{"offset":0.3333,"color":"#000"},{"offset":0.4167,"color":"#000"},{"offset":0.4167,"color":"#fff"},{"offset":0.5,"color":"#fff"},
{"offset":0.5,"color":"#000"},{"offset":0.5833,"color":"#000"},{"offset":0.5833,"color":"#fff"},{"offset":0.6667,"color":"#fff"},
{"offset":0.6667,"color":"#000"},{"offset":0.75,"color":"#000"},{"offset":0.75,"color":"#fff"},{"offset":0.8333,"color":"#fff"},
{"offset":0.8333,"color":"#000"},{"offset":0.9167,"color":"#000"},{"offset":0.9167,"color":"#fff"},{"offset":1,"color":"#fff"}]}},
             "encoding": {"y": {"field": "mean", "type": "quantitative", "title": "pg/ml"}}},
            {"mark": {"type": "bar", "fill": "transparent", "stroke": "black", "strokeWidth": 3.5},
             "encoding": {"y": {"field": "mean", "type": "quantitative", "title": "pg/ml"}}},
            {"mark": {"type": "rule", "color": "black", "strokeWidth": 2},
             "encoding": {"y": {"field": "mean", "type": "quantitative", "title": "pg/ml"}, "y2": {"field": "upper"}}},
            {"mark": {"type": "tick", "color": "black", "size": 78, "thickness": 2.5},
             "encoding": {"y": {"field": "upper", "type": "quantitative", "title": "pg/ml"}}},
            {"data": {"values": [{"note": "(P < 0,01)"}]},
             "mark": {"type": "text", "color": "#f01010", "font": "DejaVu Sans", "fontWeight": "bold", "fontSize": 20, "baseline": "middle", "align": "center", "dx": 22.5},
             "encoding": {"x": {"datum": "IFN gamma-post"}, "y": {"datum": 142.3, "type": "quantitative"}, "text": {"field": "note"}}}
          ]
        },
        {
          "width": 466, "height": 287,
          "title": "all farms",
          "transform": [{"filter": "datum.panel === 'TNF'"}],
          "encoding": {"x": {"field": "cat", "type": "nominal", "sort": null, "scale": {"domain": ["TNF alpha-pre", "TNF alpha-post"], "paddingInner": 0.32, "paddingOuter": 0.175}}},
          "layer": [
            {"transform": [{"filter": "datum.phase === 'pre'"}],
             "mark": {"type": "bar", "strokeWidth": 0, "fill": {"gradient": "linear", "x1": 0, "y1": 0, "x2": 1, "y2": 0, "stops": [
{"offset":0,"color":"#000"},{"offset":0.02,"color":"#000"},{"offset":0.02,"color":"#fff"},{"offset":0.04,"color":"#fff"},
{"offset":0.04,"color":"#000"},{"offset":0.06,"color":"#000"},{"offset":0.06,"color":"#fff"},{"offset":0.08,"color":"#fff"},
{"offset":0.08,"color":"#000"},{"offset":0.1,"color":"#000"},{"offset":0.1,"color":"#fff"},{"offset":0.12,"color":"#fff"},
{"offset":0.12,"color":"#000"},{"offset":0.14,"color":"#000"},{"offset":0.14,"color":"#fff"},{"offset":0.16,"color":"#fff"},
{"offset":0.16,"color":"#000"},{"offset":0.18,"color":"#000"},{"offset":0.18,"color":"#fff"},{"offset":0.2,"color":"#fff"},
{"offset":0.2,"color":"#000"},{"offset":0.22,"color":"#000"},{"offset":0.22,"color":"#fff"},{"offset":0.24,"color":"#fff"},
{"offset":0.24,"color":"#000"},{"offset":0.26,"color":"#000"},{"offset":0.26,"color":"#fff"},{"offset":0.28,"color":"#fff"},
{"offset":0.28,"color":"#000"},{"offset":0.3,"color":"#000"},{"offset":0.3,"color":"#fff"},{"offset":0.32,"color":"#fff"},
{"offset":0.32,"color":"#000"},{"offset":0.34,"color":"#000"},{"offset":0.34,"color":"#fff"},{"offset":0.36,"color":"#fff"},
{"offset":0.36,"color":"#000"},{"offset":0.38,"color":"#000"},{"offset":0.38,"color":"#fff"},{"offset":0.4,"color":"#fff"},
{"offset":0.4,"color":"#000"},{"offset":0.42,"color":"#000"},{"offset":0.42,"color":"#fff"},{"offset":0.44,"color":"#fff"},
{"offset":0.44,"color":"#000"},{"offset":0.46,"color":"#000"},{"offset":0.46,"color":"#fff"},{"offset":0.48,"color":"#fff"},
{"offset":0.48,"color":"#000"},{"offset":0.5,"color":"#000"},{"offset":0.5,"color":"#fff"},{"offset":0.52,"color":"#fff"},
{"offset":0.52,"color":"#000"},{"offset":0.54,"color":"#000"},{"offset":0.54,"color":"#fff"},{"offset":0.56,"color":"#fff"},
{"offset":0.56,"color":"#000"},{"offset":0.58,"color":"#000"},{"offset":0.58,"color":"#fff"},{"offset":0.6,"color":"#fff"},
{"offset":0.6,"color":"#000"},{"offset":0.62,"color":"#000"},{"offset":0.62,"color":"#fff"},{"offset":0.64,"color":"#fff"},
{"offset":0.64,"color":"#000"},{"offset":0.66,"color":"#000"},{"offset":0.66,"color":"#fff"},{"offset":0.68,"color":"#fff"},
{"offset":0.68,"color":"#000"},{"offset":0.7,"color":"#000"},{"offset":0.7,"color":"#fff"},{"offset":0.72,"color":"#fff"},
{"offset":0.72,"color":"#000"},{"offset":0.74,"color":"#000"},{"offset":0.74,"color":"#fff"},{"offset":0.76,"color":"#fff"},
{"offset":0.76,"color":"#000"},{"offset":0.78,"color":"#000"},{"offset":0.78,"color":"#fff"},{"offset":0.8,"color":"#fff"},
{"offset":0.8,"color":"#000"},{"offset":0.82,"color":"#000"},{"offset":0.82,"color":"#fff"},{"offset":0.84,"color":"#fff"},
{"offset":0.84,"color":"#000"},{"offset":0.86,"color":"#000"},{"offset":0.86,"color":"#fff"},{"offset":0.88,"color":"#fff"},
{"offset":0.88,"color":"#000"},{"offset":0.9,"color":"#000"},{"offset":0.9,"color":"#fff"},{"offset":0.92,"color":"#fff"},
{"offset":0.92,"color":"#000"},{"offset":0.94,"color":"#000"},{"offset":0.94,"color":"#fff"},{"offset":0.96,"color":"#fff"},
{"offset":0.96,"color":"#000"},{"offset":0.98,"color":"#000"},{"offset":0.98,"color":"#fff"},{"offset":1,"color":"#fff"}]}},
             "encoding": {"y": {"field": "mean", "type": "quantitative", "title": "pg/ml", "scale": {"domain": [0, 250], "nice": false}, "axis": {"values": [0, 50, 100, 150, 200, 250], "titlePadding": 21.5, "tickCount": 20}}}},
            {"transform": [{"filter": "datum.phase === 'pre'"}],
             "mark": {"type": "bar", "strokeWidth": 0, "blend": "difference", "fill": {"gradient": "linear", "x1": 0, "y1": 0, "x2": 0, "y2": 1, "stops": [
{"offset":0,"color":"#000"},{"offset":0.0625,"color":"#000"},{"offset":0.0625,"color":"#fff"},{"offset":0.125,"color":"#fff"},
{"offset":0.125,"color":"#000"},{"offset":0.1875,"color":"#000"},{"offset":0.1875,"color":"#fff"},{"offset":0.25,"color":"#fff"},
{"offset":0.25,"color":"#000"},{"offset":0.3125,"color":"#000"},{"offset":0.3125,"color":"#fff"},{"offset":0.375,"color":"#fff"},
{"offset":0.375,"color":"#000"},{"offset":0.4375,"color":"#000"},{"offset":0.4375,"color":"#fff"},{"offset":0.5,"color":"#fff"},
{"offset":0.5,"color":"#000"},{"offset":0.5625,"color":"#000"},{"offset":0.5625,"color":"#fff"},{"offset":0.625,"color":"#fff"},
{"offset":0.625,"color":"#000"},{"offset":0.6875,"color":"#000"},{"offset":0.6875,"color":"#fff"},{"offset":0.75,"color":"#fff"},
{"offset":0.75,"color":"#000"},{"offset":0.8125,"color":"#000"},{"offset":0.8125,"color":"#fff"},{"offset":0.875,"color":"#fff"},
{"offset":0.875,"color":"#000"},{"offset":0.9375,"color":"#000"},{"offset":0.9375,"color":"#fff"},{"offset":1,"color":"#fff"}]}},
             "encoding": {"y": {"field": "mean", "type": "quantitative", "title": "pg/ml"}}},
            {"transform": [{"filter": "datum.phase === 'post'"}],
             "mark": {"type": "bar", "strokeWidth": 0, "fill": {"gradient": "linear", "x1": 0, "y1": 0, "x2": 1, "y2": 0, "stops": [
{"offset":0,"color":"#000"},{"offset":0.0333,"color":"#000"},{"offset":0.0333,"color":"#fff"},{"offset":0.0667,"color":"#fff"},
{"offset":0.0667,"color":"#000"},{"offset":0.1,"color":"#000"},{"offset":0.1,"color":"#fff"},{"offset":0.1333,"color":"#fff"},
{"offset":0.1333,"color":"#000"},{"offset":0.1667,"color":"#000"},{"offset":0.1667,"color":"#fff"},{"offset":0.2,"color":"#fff"},
{"offset":0.2,"color":"#000"},{"offset":0.2333,"color":"#000"},{"offset":0.2333,"color":"#fff"},{"offset":0.2667,"color":"#fff"},
{"offset":0.2667,"color":"#000"},{"offset":0.3,"color":"#000"},{"offset":0.3,"color":"#fff"},{"offset":0.3333,"color":"#fff"},
{"offset":0.3333,"color":"#000"},{"offset":0.3667,"color":"#000"},{"offset":0.3667,"color":"#fff"},{"offset":0.4,"color":"#fff"},
{"offset":0.4,"color":"#000"},{"offset":0.4333,"color":"#000"},{"offset":0.4333,"color":"#fff"},{"offset":0.4667,"color":"#fff"},
{"offset":0.4667,"color":"#000"},{"offset":0.5,"color":"#000"},{"offset":0.5,"color":"#fff"},{"offset":0.5333,"color":"#fff"},
{"offset":0.5333,"color":"#000"},{"offset":0.5667,"color":"#000"},{"offset":0.5667,"color":"#fff"},{"offset":0.6,"color":"#fff"},
{"offset":0.6,"color":"#000"},{"offset":0.6333,"color":"#000"},{"offset":0.6333,"color":"#fff"},{"offset":0.6667,"color":"#fff"},
{"offset":0.6667,"color":"#000"},{"offset":0.7,"color":"#000"},{"offset":0.7,"color":"#fff"},{"offset":0.7333,"color":"#fff"},
{"offset":0.7333,"color":"#000"},{"offset":0.7667,"color":"#000"},{"offset":0.7667,"color":"#fff"},{"offset":0.8,"color":"#fff"},
{"offset":0.8,"color":"#000"},{"offset":0.8333,"color":"#000"},{"offset":0.8333,"color":"#fff"},{"offset":0.8667,"color":"#fff"},
{"offset":0.8667,"color":"#000"},{"offset":0.9,"color":"#000"},{"offset":0.9,"color":"#fff"},{"offset":0.9333,"color":"#fff"},
{"offset":0.9333,"color":"#000"},{"offset":0.9667,"color":"#000"},{"offset":0.9667,"color":"#fff"},{"offset":1,"color":"#fff"}]}},
             "encoding": {"y": {"field": "mean", "type": "quantitative", "title": "pg/ml"}}},
            {"transform": [{"filter": "datum.phase === 'post'"}],
             "mark": {"type": "bar", "strokeWidth": 0, "blend": "difference", "fill": {"gradient": "linear", "x1": 0, "y1": 0, "x2": 0, "y2": 1, "stops": [
{"offset":0,"color":"#000"},{"offset":0.04,"color":"#000"},{"offset":0.04,"color":"#fff"},{"offset":0.08,"color":"#fff"},
{"offset":0.08,"color":"#000"},{"offset":0.12,"color":"#000"},{"offset":0.12,"color":"#fff"},{"offset":0.16,"color":"#fff"},
{"offset":0.16,"color":"#000"},{"offset":0.2,"color":"#000"},{"offset":0.2,"color":"#fff"},{"offset":0.24,"color":"#fff"},
{"offset":0.24,"color":"#000"},{"offset":0.28,"color":"#000"},{"offset":0.28,"color":"#fff"},{"offset":0.32,"color":"#fff"},
{"offset":0.32,"color":"#000"},{"offset":0.36,"color":"#000"},{"offset":0.36,"color":"#fff"},{"offset":0.4,"color":"#fff"},
{"offset":0.4,"color":"#000"},{"offset":0.44,"color":"#000"},{"offset":0.44,"color":"#fff"},{"offset":0.48,"color":"#fff"},
{"offset":0.48,"color":"#000"},{"offset":0.52,"color":"#000"},{"offset":0.52,"color":"#fff"},{"offset":0.56,"color":"#fff"},
{"offset":0.56,"color":"#000"},{"offset":0.6,"color":"#000"},{"offset":0.6,"color":"#fff"},{"offset":0.64,"color":"#fff"},
{"offset":0.64,"color":"#000"},{"offset":0.68,"color":"#000"},{"offset":0.68,"color":"#fff"},{"offset":0.72,"color":"#fff"},
{"offset":0.72,"color":"#000"},{"offset":0.76,"color":"#000"},{"offset":0.76,"color":"#fff"},{"offset":0.8,"color":"#fff"},
{"offset":0.8,"color":"#000"},{"offset":0.84,"color":"#000"},{"offset":0.84,"color":"#fff"},{"offset":0.88,"color":"#fff"},
{"offset":0.88,"color":"#000"},{"offset":0.92,"color":"#000"},{"offset":0.92,"color":"#fff"},{"offset":0.96,"color":"#fff"},
{"offset":0.96,"color":"#000"},{"offset":1,"color":"#000"}]}},
             "encoding": {"y": {"field": "mean", "type": "quantitative", "title": "pg/ml"}}},
            {"mark": {"type": "bar", "fill": "transparent", "stroke": "black", "strokeWidth": 3.5},
             "encoding": {"y": {"field": "mean", "type": "quantitative", "title": "pg/ml"}}},
            {"mark": {"type": "rule", "color": "black", "strokeWidth": 2},
             "encoding": {"y": {"field": "mean", "type": "quantitative", "title": "pg/ml"}, "y2": {"field": "upper"}}},
            {"mark": {"type": "tick", "color": "black", "size": 78, "thickness": 2.5},
             "encoding": {"y": {"field": "upper", "type": "quantitative", "title": "pg/ml"}}}
          ]
        }
      ]
    }
  ]
}
